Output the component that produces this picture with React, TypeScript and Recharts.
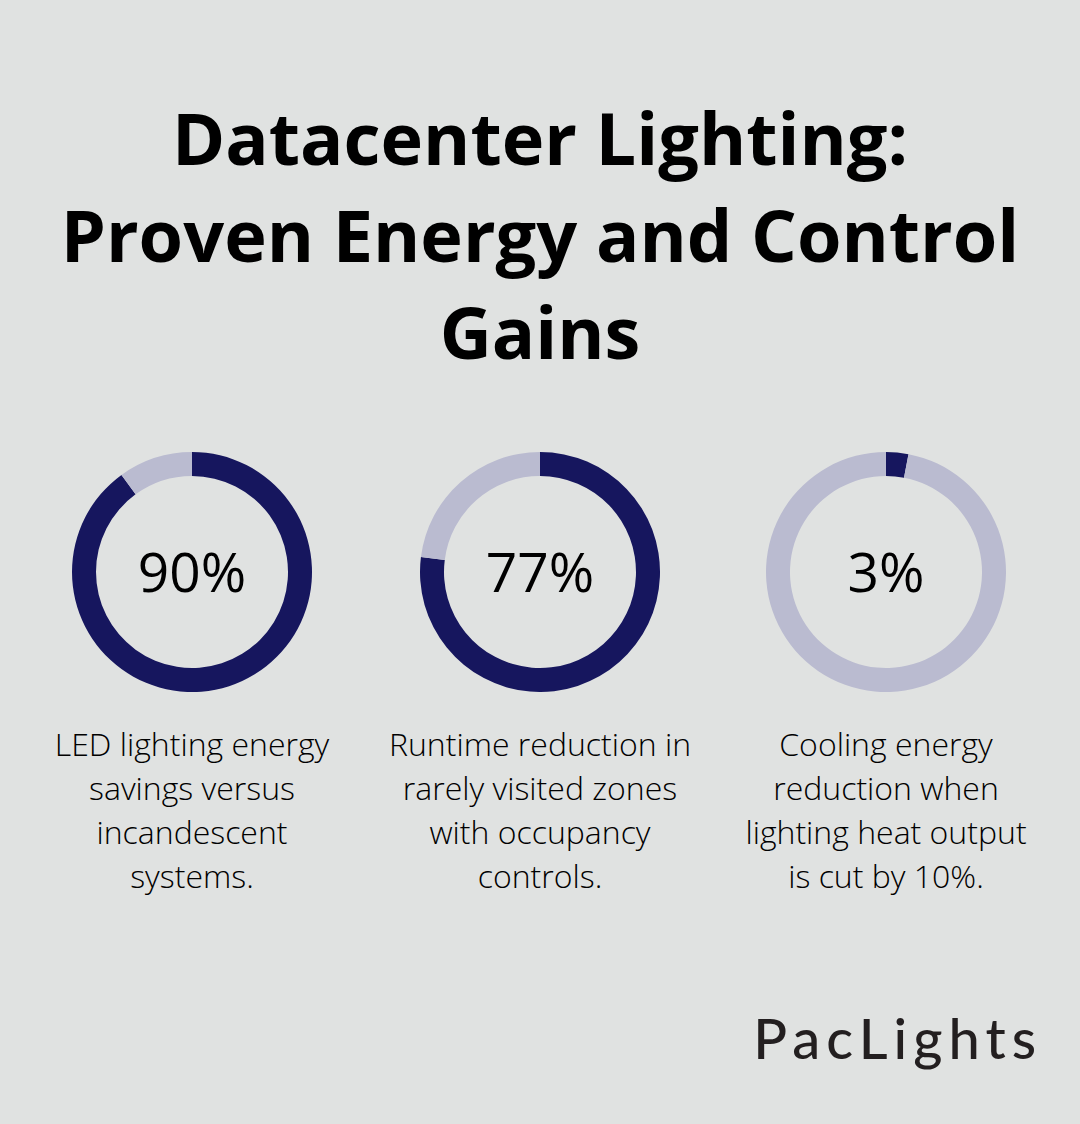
import React from "react";
import { PieChart, Pie, Cell, Label } from "recharts";

const titleLines = ["Datacenter Lighting:", "Proven Energy and Control", "Gains"];
const percentValues = [90, 77, 3];
const percentLabels = ["90%", "77%", "3%"];
const descriptions = [
  ["LED lighting energy", "savings versus", "incandescent", "systems."],
  ["Runtime reduction in", "rarely visited zones", "with occupancy", "controls."],
  ["Cooling energy", "reduction when", "lighting heat output", "is cut by 10%."],
];
const brand = "PacLights";

const BG = "#E0E2E1";
const DARK = "#16165E";
const LIGHT = "#BABBD0";
const centersX = [192, 540, 886];

function Donut({ value, label }: { value: number; label: string }) {
  const data = [
    { name: "value", v: value },
    { name: "rest", v: 100 - value },
  ];
  return (
    <PieChart width={240} height={240} margin={{ top: 0, right: 0, bottom: 0, left: 0 }}>
      <Pie
        data={data}
        dataKey="v"
        cx={120}
        cy={120}
        innerRadius={96}
        outerRadius={120}
        startAngle={90}
        endAngle={-270}
        stroke="none"
        isAnimationActive={false}
      >
        <Cell fill={DARK} />
        <Cell fill={LIGHT} />
        <Label
          value={label}
          position="center"
          fill="#000"
          style={{ fontFamily: "'Open Sans'", fontSize: 55, fontWeight: 500 }}
        />
      </Pie>
    </PieChart>
  );
}

export default function App() {
  return (
    <div
      style={{
        position: "absolute",
        left: 0,
        top: 0,
        width: 1080,
        height: 1124,
        background: BG,
        fontFamily: "'Open Sans', sans-serif",
        overflow: "hidden",
      }}
    >
      <div
        style={{
          position: "absolute",
          left: 0,
          top: 89,
          width: 1080,
          textAlign: "center",
          fontSize: 72,
          fontWeight: 700,
          lineHeight: "97px",
          color: "#000",
        }}
      >
        {titleLines.map((t, i) => (
          <div key={i}>{t}</div>
        ))}
      </div>
      {percentValues.map((v, i) => (
        <div key={i} style={{ position: "absolute", left: centersX[i] - 120, top: 452 }}>
          <Donut value={v} label={percentLabels[i]} />
        </div>
      ))}
      {descriptions.map((lines, i) => (
        <div
          key={i}
          style={{
            position: "absolute",
            left: centersX[i] - 170,
            width: 340,
            top: 722,
            textAlign: "center",
            fontSize: 32,
            fontWeight: 300,
            lineHeight: "44px",
            color: "#000",
          }}
        >
          {lines.map((l, j) => (
            <div key={j}>{l}</div>
          ))}
        </div>
      ))}
      <div
        style={{
          position: "absolute",
          right: 38,
          top: 1003,
          fontFamily: "Lato, sans-serif",
          fontSize: 56,
          fontWeight: 500,
          color: "#231F20",
          letterSpacing: 6,
          lineHeight: "70px",
        }}
      >
        {brand}
      </div>
    </div>
  );
}
